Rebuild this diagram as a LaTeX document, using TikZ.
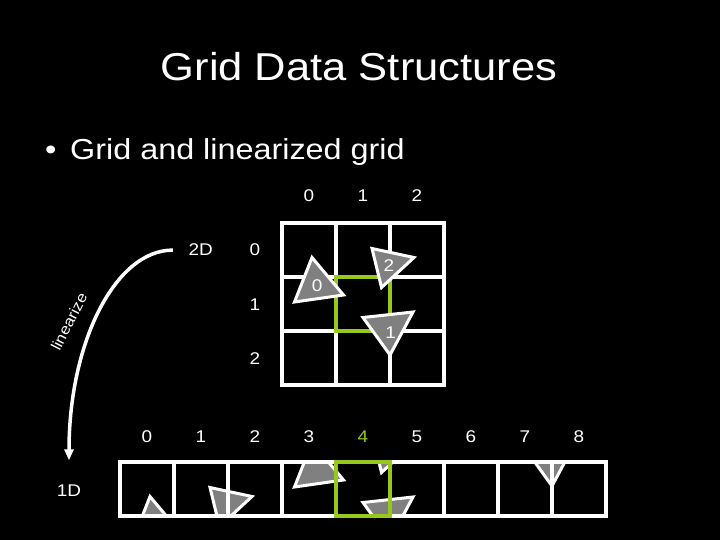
\documentclass[tikz,border=0pt]{standalone}
\usepackage{fontspec}
\setmainfont{Liberation Sans}[FakeStretch=1.12]
\usepackage{tikz}
\usetikzlibrary{arrows.meta}

\definecolor{hilite}{RGB}{150,200,30}
\definecolor{trifill}{RGB}{128,128,128}

% the three triangles of the 2D grid (image coordinates)
\newcommand{\gridtris}{%
    \filldraw[tri] (312,257.5) -- (294.5,302) -- (343.5,295) -- cycle;
    \filldraw[tri] (372,248.5) -- (414,257.5) -- (381.5,287.5) -- cycle;
    \filldraw[tri] (363,317.5) -- (413,312) -- (390,355) -- cycle;
}

\begin{document}
\begin{tikzpicture}[x=1bp, y=-1bp,
    gridline/.style={white, line width=3.3bp},
    cellmark/.style={hilite, line width=3.5bp},
    tri/.style={fill=trifill, draw=white, line width=3bp},
    lbl/.style={white, inner sep=0pt, anchor=base, font=\fontsize{17}{20}\selectfont}]

    % Background
    \fill[black] (0,0) rectangle (720,540);
    \useasboundingbox (0,0) rectangle (720,540);

    % Title and bullet
    \node[white, anchor=base, inner sep=0pt, font=\fontsize{39}{44}\selectfont] (title) at (359,80.7) {Grid Data Structures};
    \node[white, anchor=base west, inner sep=0pt, font=\fontsize{29}{34}\selectfont] (point) at (45,160) {\textbullet\hspace{13.7pt}Grid and linearized grid};

    % 2D grid
    \draw[gridline] (282,223) rectangle (444,385);
    \foreach \i in {1,2} {
        \draw[gridline] (282+54*\i,223) -- +(0,162);
        \draw[gridline] (282,223+54*\i) -- +(162,0);
    }
    \draw[cellmark] (336,277) rectangle +(54,54);
    \gridtris
    \node[lbl] (t0) at (317.2,291.7) {0};
    \node[lbl] (t2) at (388.8,271.7) {2};
    \node[lbl] (t1) at (390.7,338.3) {1};

    % Grid labels
    \foreach \c in {0,1,2} \node[lbl] (col\c) at (309+54*\c,201.7) {\c};
    \foreach \c in {0,1,2} \node[lbl] (row\c) at (255,256+54*\c) {\c};
    \node[lbl] (lbl2D) at (200.7,256) {2D};

    % 1D array: each row of the grid, clipped into its three cells
    \foreach \r in {0,1,2} {
        \begin{scope}
            \clip (120+162*\r,462) rectangle +(162,54);
            \begin{scope}[shift={(-162+162*\r,239-54*\r)}]
                \gridtris
            \end{scope}
        \end{scope}
    }
    \draw[gridline] (120,462) rectangle (606,516);
    \foreach \k in {1,...,8} \draw[gridline] (120+54*\k,462) -- +(0,54);
    \draw[cellmark] (336,462) rectangle +(54,54);

    % Array labels
    \foreach \k in {0,1,2,3,5,6,7,8} \node[lbl] (idx\k) at (147+54*\k,442.3) {\k};
    \node[lbl, text=hilite] (idx4) at (363,442.3) {4};
    \node[lbl] (lbl1D) at (69,496.7) {1D};

    % Linearize arrow
    \draw[white, line width=3.5bp, -{Triangle[width=9bp,length=11bp]}, shorten <=15.5bp, shorten >=24.5bp]
        (lbl2D.west) .. controls +(-73.5,0) and +(0,-141.5) .. (lbl1D.north);
    \node[white, inner sep=0pt, rotate=63, font=\fontsize{15}{18}\selectfont] (lin) at (69,321.7) {linearize};
\end{tikzpicture}
\end{document}
